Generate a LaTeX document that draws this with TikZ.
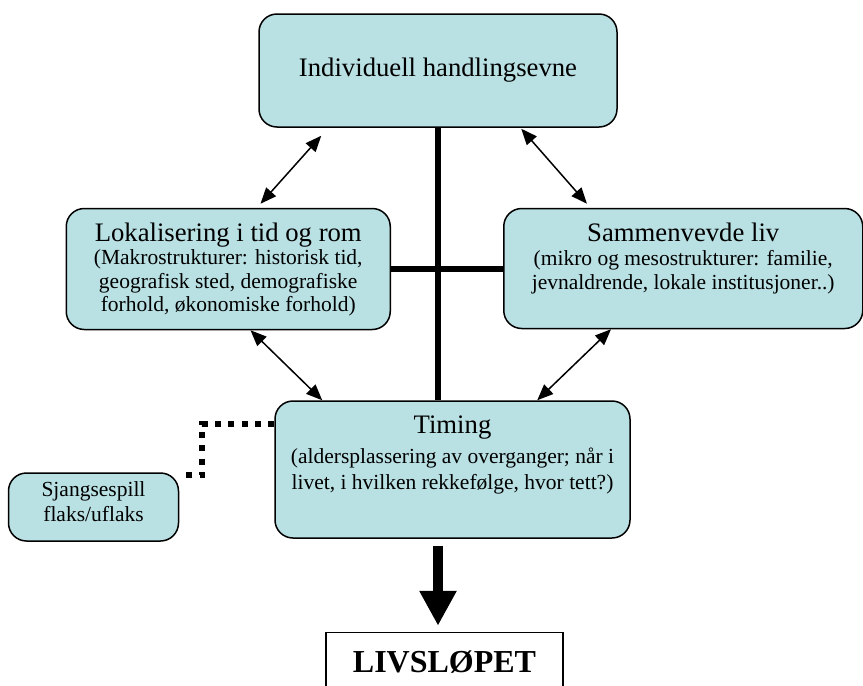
\documentclass[tikz,border=0pt]{standalone}
\usepackage{fontspec}
\setmainfont{Liberation Serif}
\usetikzlibrary{arrows.meta,positioning}
\definecolor{boxfill}{RGB}{185,224,227}

\begin{document}
\begin{tikzpicture}
    [x=1pt, y=-1pt,
    % STYLES
    % The factor style is used for the rounded boxes
    factor/.style={rectangle, rounded corners=18pt, draw, line width=1.5pt, fill=boxfill, inner sep=0pt},
    % The outcome style is used for the result at the bottom
    outcome/.style={rectangle, draw, line width=1.5pt, fill=white, inner sep=0pt, minimum width=237pt, text height=40pt, text depth=30pt, font=\fontsize{32}{36}\selectfont\bfseries},
    % connectors
    link/.style={{Triangle[length=16pt,width=13pt]}-{Triangle[length=16pt,width=13pt]}, line width=1.5pt},
    bar/.style={line width=6pt},
    chance/.style={line width=6pt, dash pattern=on 6pt off 7.3pt},
    flow/.style={-{Triangle[length=35pt,width=35pt]}, line width=10pt}]

    \useasboundingbox (0,0) rectangle (863,686);

    % Draw factors
    \node [factor] (top) at (438,70.5) {
    \parbox[c][113pt][t]{358pt}{\centering\vspace*{44pt}
    \fontsize{26.7}{30}\selectfont Individuell handlingsevne
    }
    };
    \node [factor, below left=80pt and 47pt of top.south] (left) {
    \parbox[c][121pt][t]{324pt}{\centering\vspace*{14pt}
    {\fontsize{26.7}{30}\selectfont Lokalisering i tid og rom}\\
    \fontsize{21.5}{23.6}\selectfont (Makrostrukturer: historisk tid,\\
    geografisk sted, demografiske\\
    forhold, økonomiske forhold)
    }
    };
    \node [factor, below right=80pt and 65pt of top.south] (right) {
    \parbox[c][120pt][t]{359pt}{\centering\vspace*{14pt}
    {\fontsize{26.7}{30}\selectfont Sammenvevde liv}\\[1pt]
    \fontsize{21.5}{23.6}\selectfont (mikro og mesostrukturer: familie,\\
    jevnaldrende, lokale institusjoner..)
    }
    };
    \node [factor, below right=70pt and 46pt of left.south] (timing) {
    \parbox[c][137pt][t]{355pt}{\centering\vspace*{15pt}
    {\fontsize{26.7}{30}\selectfont Timing}\\[4.3pt]
    \fontsize{21.5}{26}\selectfont (aldersplassering av overganger; når i\\
    livet, i hvilken rekkefølge, hvor tett?)
    }
    };
    \node [factor, left=95pt of timing.west, yshift=-37.5pt] (chance) {
    \parbox[c][68pt][t]{170pt}{\centering\vspace*{8.3pt}
    \fontsize{21.5}{25}\selectfont Sjangsespill\\
    flaks/uflaks
    }
    };
    \node [outcome, below=93pt of timing.south, xshift=-8pt] (course) {LIVSLØPET};

    % Draw cross
    \draw [bar] (top.south) -- (top.south |- timing.north);
    \draw [bar] (left.east) -- (left.east -| right.west);

    % Draw links
    \draw [link] ([xshift=63pt,yshift=-8pt]top.south west) -- ([xshift=195pt,yshift=4pt]left.north west);
    \draw [link] ([xshift=263pt,yshift=-1pt]top.south west) -- ([xshift=84pt,yshift=4pt]right.north west);
    \draw [link] ([xshift=185pt]left.south west) -- ([xshift=48pt]timing.north west);
    \draw [link] ([xshift=108pt]right.south west) -- ([xshift=263pt]timing.north west);

    \draw [chance] ([yshift=-24pt]timing.north west) -- ++(-72,0) |- ([yshift=-3pt]chance.north east);
    \draw [flow, shorten <=7pt, shorten >=6pt] (timing.south -| top.south) -- (course.north -| top.south);
\end{tikzpicture}
\end{document}
